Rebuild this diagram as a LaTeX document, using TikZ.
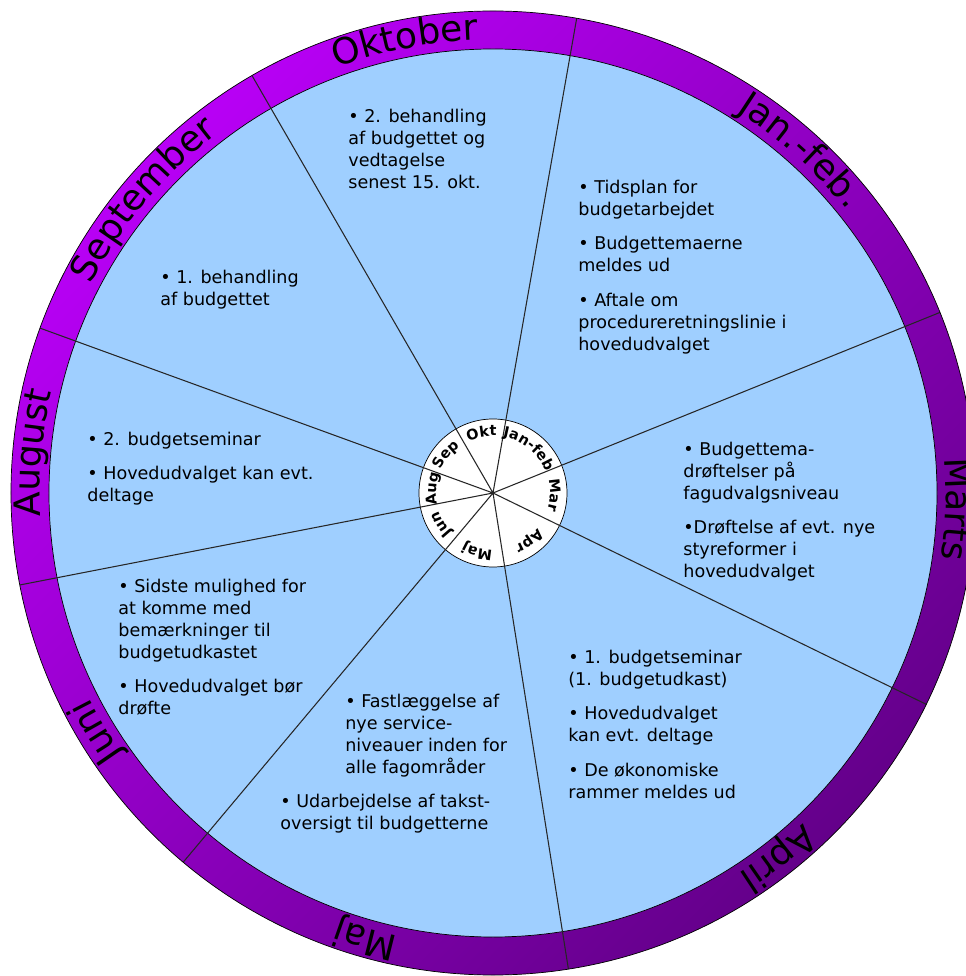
\documentclass[tikz,border=0pt]{standalone}
\usepackage{fontspec}
\setmainfont{DejaVu Sans}
\usepackage{tikz}
\usetikzlibrary{decorations.text}
\definecolor{ringlight}{HTML}{B800F6}
\definecolor{ringdark}{HTML}{64008A}
\definecolor{sectorblue}{HTML}{9FCFFF}

\begin{document}
\begin{tikzpicture}[x=0.2mm,y=0.2mm,
  note/.style={anchor=north west,inner sep=0pt,align=left,
    font=\fontsize{10}{12.5}\selectfont},
  monthtext/.style={decorate,decoration={text along path,
    text={|\fontsize{20.5}{24}\selectfont|#1},text align=center}},
  disktext/.style={decorate,decoration={text along path,
    text={|\fontsize{8.2}{10}\selectfont\bfseries|#1},text align=center}},
  spoke/.style={draw=black!85,line width=0.6pt}
]
\useasboundingbox (-493,-483) rectangle (472,493);
\coordinate (hub) at (0,0);

% ring, sectors and hub disk
\shade[top color=ringlight,bottom color=ringdark,shading angle=45]
  (hub) circle (482);
\filldraw[fill=sectorblue,draw=black] (hub) circle (444);
\filldraw[fill=white,draw=black] (hub) circle (74);
\draw[spoke] (hub) -- (80:482) (hub) -- (22:482) (hub) -- (-26:482)
  (hub) -- (-81:482) (hub) -- (-130:482) (hub) -- (-169:482)
  (hub) -- (160:482) (hub) -- (120:482);
\draw[black] (hub) circle (482);

% month names in the ring
\path[monthtext=Marts] (33:453) arc[start angle=33,end angle=-37,radius=453];
\path[monthtext=Jan.-feb.] (83:453) arc[start angle=83,end angle=13,radius=453];
\path[monthtext=Oktober] (136:453) arc[start angle=136,end angle=66,radius=453];
\path[monthtext=September] (175:453) arc[start angle=175,end angle=105,radius=453];
\path[monthtext=August] (210:453) arc[start angle=210,end angle=140,radius=453];
\path[monthtext=Juni] (-114:453) arc[start angle=-114,end angle=-184,radius=453];
\path[monthtext=Maj] (-71:453) arc[start angle=-71,end angle=-141,radius=453];
\path[monthtext=April] (-17:453) arc[start angle=-17,end angle=-87,radius=453];

% short names on the hub
\path[disktext=Mar] (43:57) arc[start angle=43,end angle=-47,radius=57];
\path[disktext=Jan-feb] (96:57) arc[start angle=96,end angle=6,radius=57];
\path[disktext=Okt] (146:57) arc[start angle=146,end angle=56,radius=57];
\path[disktext=Sep] (186:57) arc[start angle=186,end angle=96,radius=57];
\path[disktext=Aug] (221:57) arc[start angle=221,end angle=131,radius=57];
\path[disktext=Jun] (-104:57) arc[start angle=-104,end angle=-194,radius=57];
\path[disktext=Maj] (-60:57) arc[start angle=-60,end angle=-150,radius=57];
\path[disktext=Apr] (-8:57) arc[start angle=-8,end angle=-98,radius=57];

% notes in the sectors
\node[note] (oktnote) at (-145,384)
  {• 2. behandling\\af budgettet og\\vedtagelse\\senest 15. okt.};
\node[note] (sepnote) at (-333,223) {• 1. behandling\\af budgettet};
\node[note] (augnote) at (-406,61)
  {• 2. budgetseminar\\[7pt]• Hovedudvalget kan evt.\\deltage};
\node[note] (jannote) at (85,313)
  {• Tidsplan for\\budgetarbejdet\\[7pt]• Budgettemaerne\\meldes ud\\[7pt]%
   • Aftale om\\procedureretningslinie i\\hovedudvalget};
\node[note] (marnote) at (190,51)
  {• Budgettema-\\drøftelser på\\fagudvalgsniveau\\[7pt]%
   •Drøftelse af evt. nye\\styreformer i\\hovedudvalget};
\node[note] (aprnote) at (75,-157)
  {• 1. budgetseminar\\(1. budgetudkast)\\[7pt]• Hovedudvalget\\kan evt. deltage\\[7pt]%
   • De økonomiske\\rammer meldes ud};
\node[note] (majnote) at (-148,-201)
  {• Fastlæggelse af\\nye service-\\niveauer inden for\\alle fagområder};
\node[note] (majnote2) at (-213,-301)
  {• Udarbejdelse af takst-\\oversigt til budgetterne};
\node[note] (junnote) at (-375,-86)
  {• Sidste mulighed for\\at komme med\\bemærkninger til\\budgetudkastet\\[7pt]%
   • Hovedudvalget bør\\drøfte};
\end{tikzpicture}
\end{document}
